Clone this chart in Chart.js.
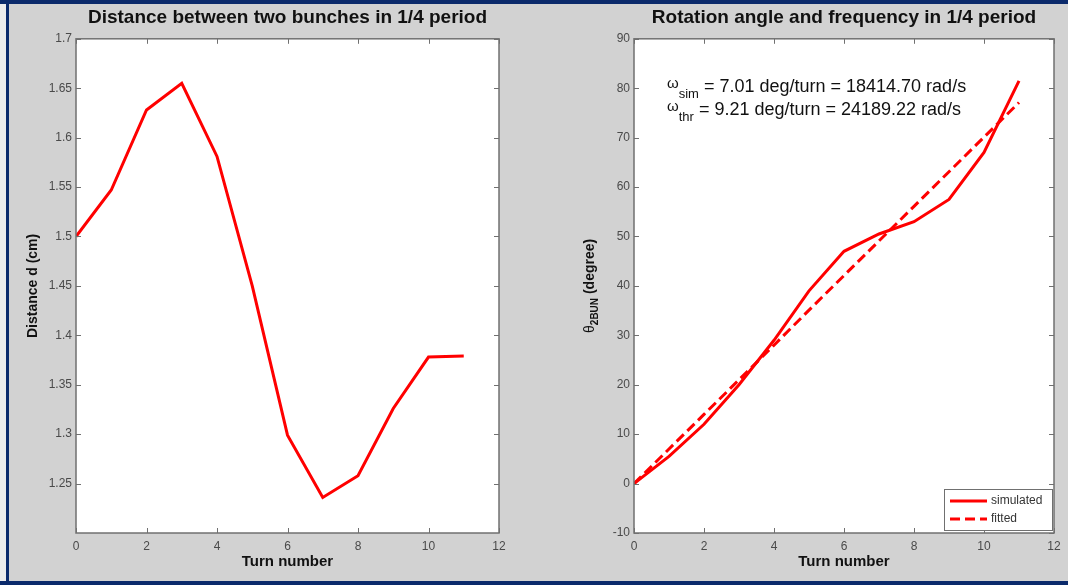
<!DOCTYPE html>
<html lang="en">
<head>
<meta charset="UTF-8">
<title>Bunch distance and rotation angle in 1/4 period</title>
<script src="https://cdn.jsdelivr.net/npm/chart.js"></script>
<style>
  html, body { margin: 0; padding: 0; }
  body {
    width: 1068px; height: 585px; position: relative; overflow: hidden;
    background: #d2d2d2;
    font-family: Arial, "Liberation Sans", sans-serif;
  }
  canvas { position: absolute; top: 0; }
  #distChart { left: 0; }
  #angleChart { left: 534px; }
  .edge { position: absolute; background: #0b2a6b; }
  .edge.top { left: 0; top: 0; width: 1068px; height: 4px; }
  .edge.left { left: 6px; top: 0; width: 3px; height: 585px; }
  .edge.bottom { left: 0; top: 581px; width: 1068px; height: 4px; }
  .margin { position: absolute; left: 0; top: 0; width: 6px; height: 585px; background: #ececec; }
</style>
</head>
<body>
  <canvas id="distChart" width="534" height="585"></canvas>
  <canvas id="angleChart" width="534" height="585"></canvas>
  <div class="margin"></div>
  <div class="edge top"></div>
  <div class="edge left"></div>
  <div class="edge bottom"></div>

<script>
  const turns = [0, 1, 2, 3, 4, 5, 6, 7, 8, 9, 10, 11];
  const distance = [1.5, 1.547, 1.628, 1.655, 1.581, 1.45, 1.299, 1.236, 1.258, 1.326, 1.378, 1.379];
  const angleSimulated = [0, 5.5, 12, 20, 29, 39, 47, 50.5, 53, 57.5, 67, 81.5];
  const angleFitted = [0, 7.0, 14.0, 21.0, 28.0, 35.1, 42.1, 49.1, 56.1, 63.1, 70.1, 77.1];

  const turnTicks = [0, 2, 4, 6, 8, 10, 12];
  const distanceTicks = [1.25, 1.3, 1.35, 1.4, 1.45, 1.5, 1.55, 1.6, 1.65, 1.7];
  const angleTicks = [-10, 0, 10, 20, 30, 40, 50, 60, 70, 80, 90];

  const omegaSub = ['sim', 'thr'];
  const omegaText = [' = 7.01 deg/turn = 18414.70 rad/s', ' = 9.21 deg/turn = 24189.22 rad/s'];

  const RED = '#ff0000';
  const FONT = 'Arial, "Liberation Sans", sans-serif';

  function points(ys) {
    return turns.map((t, i) => ({ x: t, y: ys[i] }));
  }

  // white plot area, matlab-style box with inward ticks on all sides
  const plotBox = {
    id: 'plotBox',
    beforeDatasetsDraw(chart) {
      const { ctx, chartArea: a } = chart;
      ctx.save();
      ctx.fillStyle = '#ffffff';
      ctx.fillRect(a.left, a.top, a.right - a.left, a.bottom - a.top);
      ctx.restore();
    },
    afterDatasetsDraw(chart) {
      const { ctx, chartArea: a, scales: { x, y } } = chart;
      ctx.save();
      ctx.strokeStyle = '#707070';
      ctx.lineWidth = 1.5;
      ctx.strokeRect(a.left, a.top, a.right - a.left, a.bottom - a.top);
      ctx.lineWidth = 1;
      ctx.beginPath();
      x.ticks.forEach(t => {
        const px = Math.round(x.getPixelForValue(t.value)) + 0.5;
        ctx.moveTo(px, a.bottom); ctx.lineTo(px, a.bottom - 5);
        ctx.moveTo(px, a.top); ctx.lineTo(px, a.top + 5);
      });
      y.ticks.forEach(t => {
        const py = Math.round(y.getPixelForValue(t.value)) + 0.5;
        ctx.moveTo(a.left, py); ctx.lineTo(a.left + 5, py);
        ctx.moveTo(a.right, py); ctx.lineTo(a.right - 5, py);
      });
      ctx.stroke();
      ctx.restore();
    }
  };

  function scales(yMin, yMax, yTicks, yWidth, yTitle, yTitlePad) {
    return {
      x: {
        type: 'linear', min: 0, max: 12,
        afterBuildTicks: s => { s.ticks = turnTicks.map(v => ({ value: v })); },
        afterFit: s => { s.height = 52; },
        grid: { display: false, drawTicks: false },
        border: { display: false },
        ticks: { color: '#4a4a4a', font: { family: FONT, size: 12 }, padding: 6, maxRotation: 0, autoSkip: false },
        title: {
          display: true, text: 'Turn number', color: '#111111',
          font: { family: FONT, size: 15, weight: 'bold' }, padding: { top: 0, bottom: 14 }
        }
      },
      y: {
        type: 'linear', min: yMin, max: yMax,
        afterBuildTicks: s => { s.ticks = yTicks.map(v => ({ value: v })); },
        afterFit: s => { s.width = yWidth; },
        grid: { display: false, drawTicks: false },
        border: { display: false },
        ticks: { color: '#4a4a4a', font: { family: FONT, size: 12 }, padding: 4, autoSkip: false, callback: v => String(v) },
        title: {
          display: !!yTitle, text: yTitle || '', color: '#111111',
          font: { family: FONT, size: 14, weight: 'bold' }, padding: { top: yTitlePad, bottom: 0 }
        }
      }
    };
  }

  function titleOpts(text) {
    return {
      display: true, text: text, color: '#111111', fullSize: false,
      font: { family: FONT, size: 19, weight: 'bold' },
      padding: { top: 6, bottom: 10 }
    };
  }

  new Chart(document.getElementById('distChart'), {
    type: 'line',
    data: {
      datasets: [{
        label: 'distance',
        data: points(distance),
        borderColor: RED, borderWidth: 3, pointRadius: 0, tension: 0
      }]
    },
    options: {
      responsive: false, animation: false, events: [],
      layout: { padding: { left: 0, right: 35, top: 0, bottom: 0 } },
      plugins: { legend: { display: false }, tooltip: { enabled: false }, title: titleOpts('Distance between two bunches in 1/4 period') },
      scales: scales(1.2, 1.7, distanceTicks, 76, 'Distance d (cm)', 25)
    },
    plugins: [plotBox]
  });

  // y-axis title with subscript, omega annotation and in-plot legend
  const angleExtras = {
    id: 'angleExtras',
    afterDraw(chart) {
      const { ctx, chartArea: a } = chart;
      ctx.save();

      // theta_2BUN (degree)
      ctx.translate(56, (a.top + a.bottom) / 2);
      ctx.rotate(-Math.PI / 2);
      ctx.fillStyle = '#111111';
      ctx.textBaseline = 'middle';
      const parts = [
        { t: 'θ', f: '14px ' + FONT, dy: 0 },
        { t: '2BUN', f: 'bold 10px ' + FONT, dy: 5 },
        { t: ' (degree)', f: 'bold 14px ' + FONT, dy: 0 }
      ];
      let total = 0;
      parts.forEach(p => { ctx.font = p.f; p.w = ctx.measureText(p.t).width; total += p.w; });
      let cx = -total / 2;
      parts.forEach(p => { ctx.font = p.f; ctx.fillText(p.t, cx, p.dy); cx += p.w; });
      ctx.setTransform(1, 0, 0, 1, 0, 0);

      // omega lines
      ctx.textBaseline = 'alphabetic';
      omegaText.forEach((txt, i) => {
        const base = 92 + i * 23;
        let px = 133;
        ctx.font = '15px ' + FONT;
        ctx.fillText('ω', px, base - 4);
        px += ctx.measureText('ω').width;
        ctx.font = '13px ' + FONT;
        ctx.fillText(omegaSub[i], px, base + 6);
        px += ctx.measureText(omegaSub[i]).width;
        ctx.font = '18px ' + FONT;
        ctx.fillText(txt, px, base);
      });

      // legend box in lower right corner
      const w = 108, h = 41;
      const lx = a.right - w - 2, ly = a.bottom - h - 3;
      ctx.fillStyle = '#ffffff';
      ctx.fillRect(lx, ly, w, h);
      ctx.strokeStyle = '#707070';
      ctx.lineWidth = 1;
      ctx.strokeRect(lx + 0.5, ly + 0.5, w, h);
      chart.data.datasets.forEach((ds, i) => {
        const ry = ly + 12 + i * 18;
        ctx.strokeStyle = ds.borderColor;
        ctx.lineWidth = 3;
        ctx.setLineDash(ds.borderDash || []);
        ctx.beginPath();
        ctx.moveTo(lx + 6, ry);
        ctx.lineTo(lx + 43, ry);
        ctx.stroke();
        ctx.setLineDash([]);
        ctx.fillStyle = '#333333';
        ctx.font = '12px ' + FONT;
        ctx.textBaseline = 'middle';
        ctx.fillText(ds.label, lx + 47, ry);
      });
      ctx.restore();
    }
  };

  new Chart(document.getElementById('angleChart'), {
    type: 'line',
    data: {
      datasets: [{
        label: 'simulated',
        data: points(angleSimulated),
        borderColor: RED, borderWidth: 3, pointRadius: 0, tension: 0
      }, {
        label: 'fitted',
        data: points(angleFitted),
        borderColor: RED, borderWidth: 3, borderDash: [10, 5], pointRadius: 0, tension: 0
      }]
    },
    options: {
      responsive: false, animation: false, events: [],
      layout: { padding: { left: 0, right: 14, top: 0, bottom: 0 } },
      plugins: { legend: { display: false }, tooltip: { enabled: false }, title: titleOpts('Rotation angle and frequency in 1/4 period') },
      scales: scales(-10, 90, angleTicks, 100, '', 0)
    },
    plugins: [plotBox, angleExtras]
  });
</script>
</body>
</html>
